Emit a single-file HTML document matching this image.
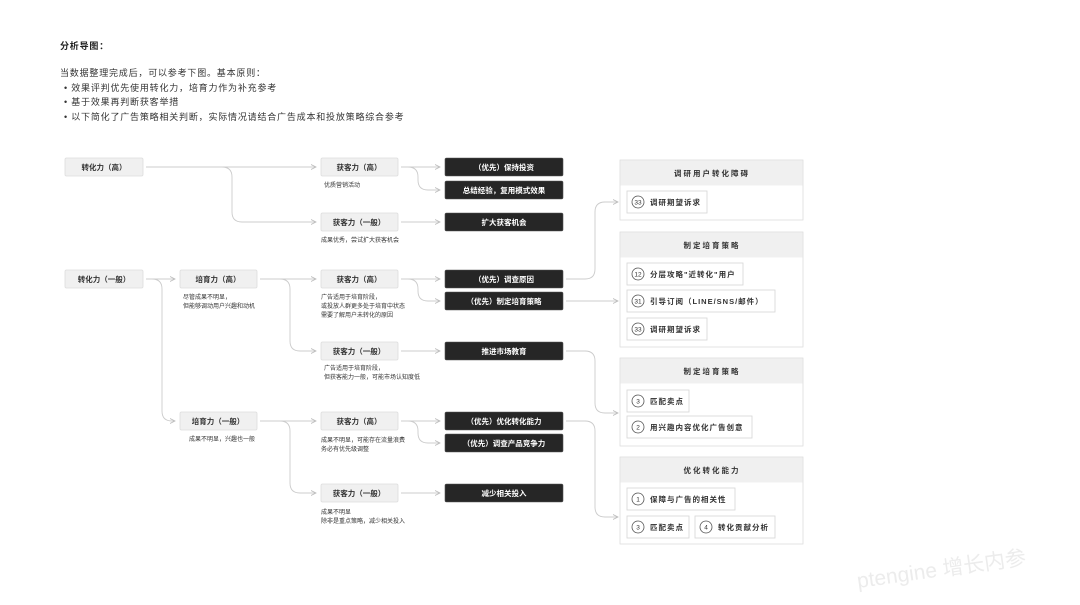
<!DOCTYPE html>
<html><head><meta charset="utf-8"><style>
html,body{margin:0;padding:0;background:#fff;}
svg{display:block;font-family:"Liberation Sans","Noto Sans CJK SC",sans-serif;}
</style></head><body>
<svg width="1080" height="605" viewBox="0 0 1080 605" xmlns="http://www.w3.org/2000/svg">
<defs>
<marker id="a" markerWidth="6" markerHeight="6" refX="5" refY="3" orient="auto" markerUnits="userSpaceOnUse"><path d="M0,0.5 L5,3 L0,5.5" fill="none" stroke="#bbb" stroke-width="0.8"/></marker>
</defs>
<g font-size="9" fill="#222" letter-spacing="0.8">
<text x="60" y="49" font-weight="bold">分析导图：</text>
<text x="60" y="76" fill="#333">当数据整理完成后，可以参考下图。基本原则：</text>
<text x="64" y="91" fill="#333">•  效果评判优先使用转化力，培育力作为补充参考</text>
<text x="64" y="105" fill="#333">•  基于效果再判断获客举措</text>
<text x="64" y="120" fill="#333">•  以下简化了广告策略相关判断，实际情况请结合广告成本和投放策略综合参考</text>
</g>
<g fill="none" stroke="#ccc" stroke-width="0.9" marker-end="url(#a)">
<path d="M146,167 H316"/>
<path d="M146,167 H222 Q232,167 232,177 V212 Q232,222 242,222 H316"/>
<path d="M146,279 H175"/>
<path d="M146,279 H152 Q162,279 162,289 V411 Q162,421 172,421 H175"/>
<path d="M260,279 H316"/>
<path d="M260,279 H280 Q290,279 290,289 V341 Q290,351 300,351 H316"/>
<path d="M260,421 H316"/>
<path d="M260,421 H280 Q290,421 290,431 V483 Q290,493 300,493 H316"/>
<path d="M401,167 H440"/>
<path d="M401,167 H408 Q418,167 418,177 V180 Q418,190 428,190 H440"/>
<path d="M401,222 H440"/>
<path d="M401,279 H440"/>
<path d="M401,279 H408 Q418,279 418,289 V291 Q418,301 428,301 H440"/>
<path d="M401,351 H440"/>
<path d="M401,421 H440"/>
<path d="M401,421 H408 Q418,421 418,431 V433 Q418,443 428,443 H440"/>
<path d="M401,493 H440"/>
<path d="M566,279 H585 Q595,279 595,269 V212 Q595,202 605,202 H618"/>
<path d="M566,301 H618"/>
<path d="M566,351 H585 Q595,351 595,361 V403 Q595,413 605,413 H618"/>
<path d="M566,421 H585 Q595,421 595,431 V507 Q595,517 605,517 H618"/>
</g>
<g font-size="7.5" text-anchor="middle" fill="#333" font-weight="bold">
<g fill="#f0f0f0" stroke="#ddd" stroke-width="0.8">
<rect x="65" y="158" width="78" height="18" rx="1.5"/>
<rect x="65" y="270" width="78" height="18" rx="1.5"/>
<rect x="180" y="270" width="77" height="18" rx="1.5"/>
<rect x="180" y="412" width="77" height="18" rx="1.5"/>
<rect x="321" y="158" width="77" height="18" rx="1.5"/>
<rect x="321" y="213" width="77" height="18" rx="1.5"/>
<rect x="321" y="270" width="77" height="18" rx="1.5"/>
<rect x="321" y="342" width="77" height="18" rx="1.5"/>
<rect x="321" y="412" width="77" height="18" rx="1.5"/>
<rect x="321" y="484" width="77" height="18" rx="1.5"/>
</g>
<text x="104" y="170">转化力（高）</text>
<text x="104" y="282">转化力（一般）</text>
<text x="218" y="282">培育力（高）</text>
<text x="218" y="424">培育力（一般）</text>
<text x="359" y="170">获客力（高）</text>
<text x="359" y="225">获客力（一般）</text>
<text x="359" y="282">获客力（高）</text>
<text x="359" y="354">获客力（一般）</text>
<text x="359" y="424">获客力（高）</text>
<text x="359" y="496">获客力（一般）</text>
</g>
<g font-size="7.5" text-anchor="middle" font-weight="bold">
<g fill="#262626" stroke="#555" stroke-width="0.6">
<rect x="445" y="158" width="118" height="18" rx="1.5"/>
<rect x="445" y="181" width="118" height="18" rx="1.5"/>
<rect x="445" y="213" width="118" height="18" rx="1.5"/>
<rect x="445" y="270" width="118" height="18" rx="1.5"/>
<rect x="445" y="292" width="118" height="18" rx="1.5"/>
<rect x="445" y="342" width="118" height="18" rx="1.5"/>
<rect x="445" y="412" width="118" height="18" rx="1.5"/>
<rect x="445" y="434" width="118" height="18" rx="1.5"/>
<rect x="445" y="484" width="118" height="18" rx="1.5"/>
</g>
<g fill="#fff">
<text x="504" y="170">（优先）保持投资</text>
<text x="504" y="193">总结经验，复用模式效果</text>
<text x="504" y="225">扩大获客机会</text>
<text x="504" y="282">（优先）调查原因</text>
<text x="504" y="304">（优先）制定培育策略</text>
<text x="504" y="354">推进市场教育</text>
<text x="504" y="424">（优先）优化转化能力</text>
<text x="504" y="446">（优先）调查产品竞争力</text>
<text x="504" y="496">减少相关投入</text>
</g>
</g>
<g font-size="6" fill="#333">
<text x="324" y="187">优质营销活动</text>
<text x="321" y="242">成果优秀，尝试扩大获客机会</text>
<text x="183" y="299">尽管成果不明显，</text>
<text x="183" y="308">但能够调动用户兴趣和动机</text>
<text x="321" y="299">广告适用于培育阶段，</text>
<text x="321" y="308">或投放人群更多处于培育中状态</text>
<text x="321" y="317">需要了解用户未转化的原因</text>
<text x="324" y="370">广告适用于培育阶段，</text>
<text x="324" y="379">但获客能力一般，可能市场认知度低</text>
<text x="189" y="441">成果不明显，兴趣也一般</text>
<text x="321" y="442">成果不明显，可能存在流量浪费</text>
<text x="321" y="451">务必有优先级调整</text>
<text x="321" y="514">成果不明显</text>
<text x="321" y="523">除非是重点策略，减少相关投入</text>
</g>
<g font-size="7.5" fill="#333">
<g fill="#fff" stroke="#ddd" stroke-width="0.8">
<rect x="620" y="160" width="183" height="60"/>
<rect x="620" y="232" width="183" height="115"/>
<rect x="620" y="358" width="183" height="88"/>
<rect x="620" y="457" width="183" height="87"/>
</g>
<g fill="#f0f0f0">
<rect x="620.5" y="160.5" width="182" height="25"/>
<rect x="620.5" y="232.5" width="182" height="25"/>
<rect x="620.5" y="358.5" width="182" height="25"/>
<rect x="620.5" y="457.5" width="182" height="25"/>
</g>
<g text-anchor="middle" letter-spacing="2" font-weight="bold">
<text x="712" y="176">调研用户转化障碍</text>
<text x="712" y="248">制定培育策略</text>
<text x="712" y="374">制定培育策略</text>
<text x="712" y="473">优化转化能力</text>
</g>
<g fill="#fff" stroke="#d6d6d6" stroke-width="0.8">
<rect x="627" y="191" width="80" height="22"/>
<rect x="627" y="263" width="116" height="22"/>
<rect x="627" y="290" width="148" height="22"/>
<rect x="627" y="318" width="80" height="22"/>
<rect x="627" y="390" width="62" height="22"/>
<rect x="627" y="416" width="125" height="22"/>
<rect x="627" y="488" width="108" height="22"/>
<rect x="627" y="516" width="62" height="22"/>
<rect x="695" y="516" width="80" height="22"/>
</g>
<g fill="none" stroke="#555" stroke-width="0.8">
<circle cx="638" cy="202" r="6"/><circle cx="638" cy="274" r="6"/><circle cx="638" cy="301" r="6"/><circle cx="638" cy="329" r="6"/>
<circle cx="638" cy="401" r="6"/><circle cx="638" cy="427" r="6"/><circle cx="638" cy="499" r="6"/><circle cx="638" cy="527" r="6"/><circle cx="706" cy="527" r="6"/>
</g>
<g font-size="6.5" text-anchor="middle">
<text x="638" y="204.5">33</text><text x="638" y="276.5">12</text><text x="638" y="303.5">31</text><text x="638" y="331.5">33</text>
<text x="638" y="403.5">3</text><text x="638" y="429.5">2</text><text x="638" y="501.5">1</text><text x="638" y="529.5">3</text><text x="706" y="529.5">4</text>
</g>
<g letter-spacing="1" font-weight="bold">
<text x="650" y="205">调研期望诉求</text>
<text x="650" y="277">分层攻略"近转化"用户</text>
<text x="650" y="304">引导订阅（LINE/SNS/邮件）</text>
<text x="650" y="332">调研期望诉求</text>
<text x="650" y="404">匹配卖点</text>
<text x="650" y="430">用兴趣内容优化广告创意</text>
<text x="650" y="502">保障与广告的相关性</text>
<text x="650" y="530">匹配卖点</text>
<text x="718" y="530">转化贡献分析</text>
</g>
</g>
<text x="858" y="588" font-size="21" fill="#ececec" transform="rotate(-8 858 588)" font-family="'Liberation Sans','Noto Sans CJK SC',sans-serif">ptengine 增长内参</text>
</svg>
</body></html>
